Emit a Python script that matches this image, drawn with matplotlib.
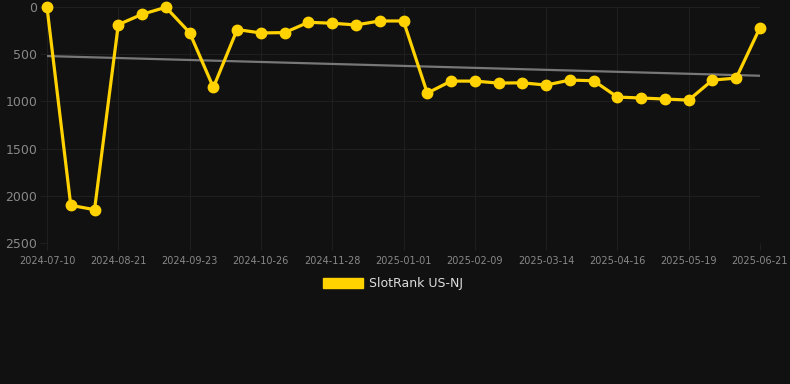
import numpy as np
import matplotlib.pyplot as plt
from matplotlib.patches import Patch

# rank values, one point every ~11 days (category axis)
ranks = [3, 2101, 2147, 187, 77, 3, 271, 852, 239, 275, 271, 162, 172, 190, 148, 148,
         912, 785, 785, 806, 803, 827, 774, 781, 954, 964, 975, 986, 774, 753, 218]
tick_labels = ['2024-07-10', '2024-08-21', '2024-09-23', '2024-10-26', '2024-11-28',
               '2025-01-01', '2025-02-09', '2025-03-14', '2025-04-16', '2025-05-19',
               '2025-06-21']
series_name = 'SlotRank US-NJ'

bg = '#111111'
yellow = '#FFD200'
gridc = '#1f1f1f'

x = np.arange(len(ranks))
coef = np.polyfit(x, ranks, 1)
trend = np.polyval(coef, x)

fig = plt.figure(figsize=(7.9, 3.84), dpi=100, facecolor=bg)
ax = fig.add_axes([47 / 790, 1 - 243 / 384, 713 / 790, 236 / 384])
ax.set_facecolor(bg)

ax.plot(x, trend, color='#777777', linewidth=1.6, zorder=2)
ax.plot(x, ranks, color=yellow, linewidth=2.3, marker='o', markersize=7.5,
        clip_on=False, zorder=3)

ax.set_xlim(0, len(ranks) - 1)
ax.set_ylim(2500, 0)
ax.set_yticks([0, 500, 1000, 1500, 2000, 2500])
ax.set_xticks(x[::3])
ax.set_xticklabels(tick_labels)

ax.grid(True, color=gridc, linewidth=0.8)
for s in ax.spines.values():
    s.set_visible(False)
ax.tick_params(axis='y', colors=gridc, labelcolor='#888888', labelsize=9,
               length=5, width=0.8, pad=2)
ax.tick_params(axis='x', colors=gridc, labelcolor='#888888', labelsize=7,
               length=5, width=0.8, pad=4)

fig.legend(handles=[Patch(facecolor=yellow, edgecolor=yellow)], labels=[series_name],
           loc='center', bbox_to_anchor=(393 / 790, 1 - 284 / 384), frameon=False,
           labelcolor='#dddddd', fontsize=9, handlelength=3.2, handleheight=0.9,
           handletextpad=0.5)

fig.savefig('out.png', dpi=100, facecolor=bg)
